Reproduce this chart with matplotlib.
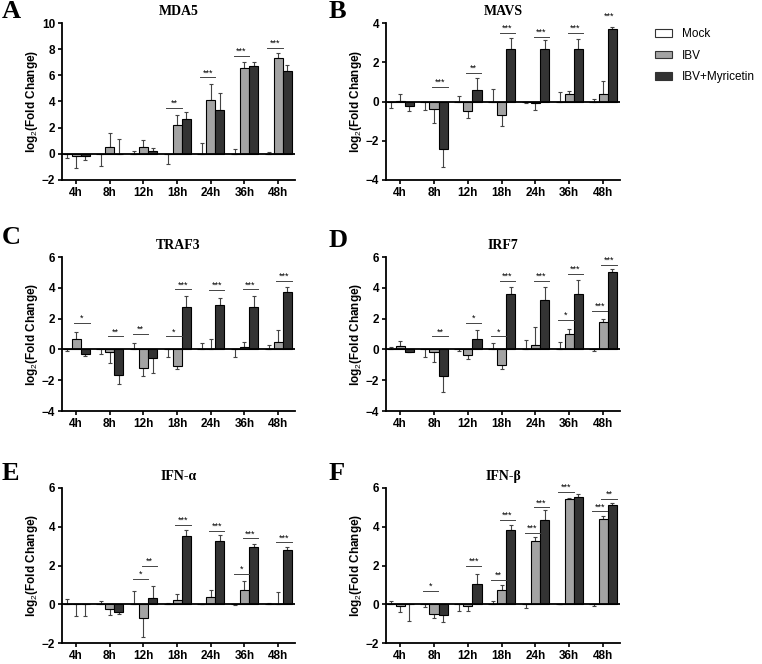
import numpy as np
import matplotlib
matplotlib.use('Agg')
import matplotlib.pyplot as plt
from matplotlib.patches import Patch

plt.rcParams['font.family'] = ['Liberation Sans', 'DejaVu Sans']
plt.rcParams['mathtext.fontset'] = 'custom'
plt.rcParams['mathtext.rm'] = 'Liberation Sans'

times = ['4h', '8h', '12h', '18h', '24h', '36h', '48h']
groups = ['Mock', 'IBV', 'IBV+Myricetin']

# error values are signed: negative means the bar is drawn downwards
mda5_mock_err = [-0.35, -0.95, 0.2, -0.75, 0.85, 0.4, 0.15]
mda5_ibv = [-0.2, 0.55, 0.5, 2.2, 4.1, 6.55, 7.35]
mda5_ibv_err = [-0.9, 1.05, 0.55, 0.75, 1.2, 0.45, 0.35]
mda5_myr = [-0.15, 0.02, 0.25, 2.65, 3.35, 6.75, 6.35]
mda5_myr_err = [-0.3, 1.13, 0.2, 0.55, 1.3, 0.3, 0.45]
mda5_sig = [(3, 'mi', 3.5, '**'), (4, 'mi', 5.85, '***'), (5, 'mi', 7.5, '***'), (6, 'mi', 8.1, '***')]

mavs_mock_err = [-0.35, -0.45, 0.3, 0.65, -0.1, 0.5, 0.15]
mavs_ibv = [0.05, -0.4, -0.5, -0.7, -0.1, 0.4, 0.4]
mavs_ibv_err = [0.35, -0.7, -0.35, -0.55, -0.35, 0.15, 0.65]
mavs_myr = [-0.25, -2.4, 0.6, 2.7, 2.65, 2.7, 3.7]
mavs_myr_err = [-0.25, -0.95, 0.6, 0.55, 0.5, 0.5, 0.1]
mavs_sig = [(1, 'im', 0.75, '***'), (2, 'im', 1.45, '**'), (3, 'im', 3.5, '***'), (4, 'im', 3.3, '***'),
            (5, 'im', 3.5, '***'), (6, 'im', 4.1, '***')]

traf3_mock_err = [-0.1, -0.3, 0.4, -0.5, 0.4, -0.5, 0.3]
traf3_ibv = [0.7, -0.2, -1.2, -1.05, 0.05, 0.15, 0.45]
traf3_ibv_err = [0.45, -0.7, -0.55, -0.2, 0.6, 0.3, 0.8]
traf3_myr = [-0.3, -1.65, -0.55, 2.75, 2.9, 2.75, 3.7]
traf3_myr_err = [-0.15, -0.6, -1.0, 0.7, 0.45, 0.7, 0.35]
traf3_sig = [(0, 'im', 1.7, '*'), (1, 'im', 0.85, '**'), (2, 'mi', 1.0, '**'), (3, 'mi', 0.85, '*'),
             (3, 'im', 3.9, '***'), (4, 'im', 3.85, '***'), (5, 'im', 3.9, '***'), (6, 'im', 4.45, '***')]

irf7_mock_err = [0.15, -0.5, -0.1, 0.4, 0.6, 0.45, -0.1]
irf7_ibv = [0.2, -0.2, -0.35, -1.0, 0.3, 1.0, 1.75]
irf7_ibv_err = [0.35, -0.65, -0.25, -0.3, 1.15, 0.35, 0.25]
irf7_myr = [-0.15, -1.75, 0.7, 3.6, 3.2, 3.6, 5.0]
irf7_myr_err = [-0.05, -1.0, 0.55, 0.45, 0.85, 0.9, 0.2]
irf7_sig = [(1, 'im', 0.85, '**'), (2, 'im', 1.7, '*'), (3, 'mi', 0.85, '*'), (3, 'im', 4.45, '***'),
            (4, 'im', 4.45, '***'), (5, 'mi', 1.9, '*'), (5, 'im', 4.9, '***'), (6, 'mi', 2.5, '***'),
            (6, 'im', 5.5, '***')]

ifna_mock_err = [0.25, 0.15, 0.7, 0.05, 0.02, -0.05, 0.05]
ifna_ibv = [0.0, -0.25, -0.7, 0.2, 0.35, 0.75, 0.0]
ifna_ibv_err = [-0.6, -0.3, -1.0, 0.35, 0.4, 0.45, 0.65]
ifna_myr = [0.0, -0.4, 0.3, 3.5, 3.25, 2.95, 2.8]
ifna_myr_err = [-0.6, -0.1, 0.65, 0.35, 0.3, 0.15, 0.15]
ifna_sig = [(2, 'mi', 1.3, '*'), (2, 'im', 2.0, '**'), (3, 'im', 4.1, '***'), (4, 'im', 3.8, '***'),
            (5, 'mi', 1.55, '*'), (5, 'im', 3.4, '***'), (6, 'im', 3.2, '***')]

ifnb_mock_err = [0.15, -0.15, -0.35, 0.15, -0.2, 0.02, -0.1]
ifnb_ibv = [-0.1, -0.5, -0.1, 0.75, 3.25, 5.45, 4.4]
ifnb_ibv_err = [-0.3, -0.2, -0.25, 0.25, 0.2, 0.05, 0.15]
ifnb_myr = [0.0, -0.55, 1.05, 3.85, 4.35, 5.55, 5.1]
ifnb_myr_err = [-0.85, -0.35, 0.5, 0.25, 0.5, 0.15, 0.15]
ifnb_sig = [(1, 'mi', 0.7, '*'), (2, 'im', 2.0, '***'), (3, 'mi', 1.25, '**'), (3, 'im', 4.35, '***'),
            (4, 'mi', 3.7, '***'), (4, 'im', 5.0, '***'), (5, 'mi', 5.8, '***'), (6, 'mi', 4.8, '***'),
            (6, 'im', 5.45, '**')]

colors = ['white', '#a3a3a3', '#333333']
w = 0.27
W, H = 762, 664


def signed_err(err):
    err = np.array(err)
    return [np.maximum(-err, 0), np.maximum(err, 0)]


def draw_panel(ax, title, mock_err, ibv, ibv_err, myr, myr_err, sig, ylim, yticks):
    x = np.arange(len(times))
    mock = np.zeros(len(times))
    series = [(mock, mock_err), (np.array(ibv), ibv_err), (np.array(myr), myr_err)]
    for i, (vals, err) in enumerate(series):
        xs = x + (i - 1) * w
        ax.bar(xs, vals, w, color=colors[i], edgecolor='black', linewidth=0.8, zorder=2)
        ax.errorbar(xs, vals, yerr=signed_err(err), fmt='none', ecolor='#444444',
                    elinewidth=0.8, capsize=1.5, capthick=0.8, zorder=1)
    ax.axhline(0, color='black', linewidth=1.3, zorder=3)
    for g, pair, y, txt in sig:
        if pair == 'mi':
            x1, x2 = g - w, g
        else:
            x1, x2 = g, g + w
        ax.plot([x1 - 0.05, x2 + 0.13], [y, y], color='#444444', linewidth=0.7)
        ax.text((x1 + x2) / 2 + 0.04, y, txt, ha='center', va='bottom', fontsize=6.5)
    ax.set_xlim(-0.42, 6.5)
    ax.set_ylim(ylim)
    ax.set_yticks(yticks)
    ax.set_xticks(x)
    ax.set_xticklabels(times, fontweight='bold', fontsize=8.5)
    for lab in ax.get_yticklabels():
        lab.set_fontweight('bold')
        lab.set_fontsize(8.5)
    ax.spines['top'].set_visible(False)
    ax.spines['right'].set_visible(False)
    ax.spines['left'].set_linewidth(1.3)
    ax.spines['bottom'].set_linewidth(1.3)
    ax.tick_params(width=1.2, length=3, pad=2)
    ax.set_ylabel(r'log$_{\rm 2}$(Fold Change)', fontweight='bold', fontsize=8.5, labelpad=1)
    ax.set_title(title, family='Liberation Serif', fontweight='bold', fontsize=10, pad=6)


fig = plt.figure(figsize=(7.62, 6.64), dpi=100)
boxes = [(62, 23, 295, 180), (386, 23, 620, 180),
         (62, 257, 295, 411), (386, 257, 620, 411),
         (62, 488, 295, 643), (386, 488, 620, 643)]
axes = [fig.add_axes([l / W, 1 - b / H, (r - l) / W, (b - t) / H]) for l, t, r, b in boxes]

draw_panel(axes[0], 'MDA5', mda5_mock_err, mda5_ibv, mda5_ibv_err, mda5_myr, mda5_myr_err,
           mda5_sig, (-2, 10), range(-2, 11, 2))
draw_panel(axes[1], 'MAVS', mavs_mock_err, mavs_ibv, mavs_ibv_err, mavs_myr, mavs_myr_err,
           mavs_sig, (-4, 4), range(-4, 5, 2))
draw_panel(axes[2], 'TRAF3', traf3_mock_err, traf3_ibv, traf3_ibv_err, traf3_myr, traf3_myr_err,
           traf3_sig, (-4, 6), range(-4, 7, 2))
draw_panel(axes[3], 'IRF7', irf7_mock_err, irf7_ibv, irf7_ibv_err, irf7_myr, irf7_myr_err,
           irf7_sig, (-4, 6), range(-4, 7, 2))
draw_panel(axes[4], 'IFN-α', ifna_mock_err, ifna_ibv, ifna_ibv_err, ifna_myr, ifna_myr_err,
           ifna_sig, (-2, 6), range(-2, 7, 2))
draw_panel(axes[5], 'IFN-β', ifnb_mock_err, ifnb_ibv, ifnb_ibv_err, ifnb_myr, ifnb_myr_err,
           ifnb_sig, (-2, 6), range(-2, 7, 2))

# panel letters
letters = [('A', 2, 11), ('B', 329, 11), ('C', 2, 238), ('D', 329, 240), ('E', 2, 474), ('F', 329, 474)]
for s, px, py in letters:
    fig.text(px / W, 1 - py / H, s, family='Liberation Serif', fontweight='bold', fontsize=19,
             ha='left', va='center')

handles = [Patch(facecolor=colors[i], edgecolor='#333333', linewidth=0.8) for i in range(3)]
fig.legend(handles, groups, loc='upper left', bbox_to_anchor=(655 / W, 1 - 28 / H), frameon=False,
           fontsize=8.5, borderpad=0, borderaxespad=0, handlelength=1.45, handleheight=0.6,
           labelspacing=0.82, handletextpad=0.85)

fig.savefig('out.png', dpi=100)
